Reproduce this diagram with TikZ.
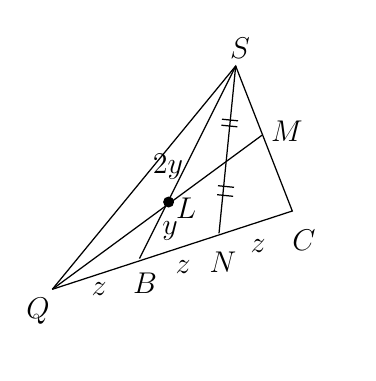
\documentclass[tikz,border=0pt]{standalone}
\usetikzlibrary{calc}
\begin{document}
\begin{tikzpicture}[x=0.4pt,y=-0.4pt,
  edge/.style={line width=0.5pt},
  tick/.style={line width=0.5pt},
  lbl/.style={inner sep=0pt,font=\large}]
\useasboundingbox (0,0) rectangle (375,381);
\coordinate (S) at (235.7,66);
\coordinate (M) at (262.3,135);
\coordinate (C) at (292.3,211);
\coordinate (N) at (219,233.3);
\coordinate (B) at (139.5,258.5);
\coordinate (Q) at (52.3,289.3);
\coordinate (L) at (168.6,202);
\draw[edge] (Q) -- (S) -- (C) -- (Q);
\draw[edge] (S) -- (B);
\draw[edge] (S) -- (N);
\draw[edge] (Q) -- (M);
\fill (L) circle (5.5);
% ticks
\coordinate (t1) at (230,120);
\coordinate (t2) at (229.4,126);
\coordinate (t3) at (226,186.5);
\coordinate (t4) at (225.1,195.5);
\foreach \t in {t1,t2,t3,t4}{
  \draw[tick] ($(\t)+(-8,-0.8)$) -- ($(\t)+(8,0.8)$);
}
\node[lbl] (lS) at (240,48.5) {$S$};
\node[lbl] (lM) at (287,131) {$M$};
\node[lbl] (lC) at (304,240) {$C$};
\node[lbl] (lN) at (223,262) {$N$};
\node[lbl] (z1) at (258,246) {$z$};
\node[lbl] (z2) at (183,267) {$z$};
\node[lbl] (lB) at (145,283) {$B$};
\node[lbl] (z3) at (99,289) {$z$};
\node[lbl] (lQ) at (38,311) {$Q$};
\node[lbl] (lL) at (186,208) {$L$};
\node[lbl] (ly) at (170,231) {$y$};
\node[lbl] (l2y) at (168,167) {$2y$};
\end{tikzpicture}
\end{document}
